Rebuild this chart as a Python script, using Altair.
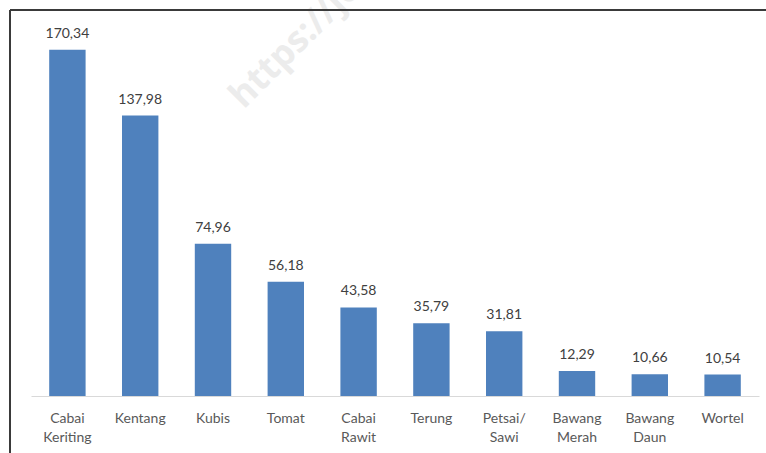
import altair as alt
import pandas as pd

categories = ["Cabai Keriting", "Kentang", "Kubis", "Tomat", "Cabai Rawit",
              "Terung", "Petsai/ Sawi", "Bawang Merah", "Bawang Daun", "Wortel"]
values = [170.34, 137.98, 74.96, 56.18, 43.58, 35.79, 31.81, 12.29, 10.66, 10.54]

df = pd.DataFrame({"kategori": categories, "nilai": values})

FONT = "Lato"

base = alt.Chart(df).transform_calculate(
    lbl="replace(format(datum.nilai, '.2f'), '.', ',')"
)

x_enc = alt.X(
    "kategori:N", sort=categories, title=None,
    scale=alt.Scale(paddingInner=0.5, paddingOuter=0.25),
    axis=alt.Axis(
        labelExpr="split(datum.label, ' ')", labelAngle=0, ticks=False,
        domainColor="#d9d9d9", labelColor="#595959", labelFont=FONT,
        labelFontSize=14, labelPadding=15, labelLineHeight=19,
        labelBaseline="top"
    ),
)
y_enc = alt.Y("nilai:Q", title=None, scale=alt.Scale(domain=[0, 185], nice=False),
              axis=None)

bars = base.mark_bar(color="#4F81BD").encode(x=x_enc, y=y_enc)
texts = base.mark_text(baseline="bottom", dy=-9, font=FONT, fontSize=14,
                       color="#404040").encode(x=x_enc, y=y_enc, text="lbl:N")

frame_left = alt.Chart(df).mark_rule(color="#3a3a3a", strokeWidth=2).encode(
    x=alt.value(-21), y=alt.value(-10), y2=alt.value(460))
frame_top = alt.Chart(df).mark_rule(color="#3a3a3a", strokeWidth=2).encode(
    x=alt.value(-21), x2=alt.value(760), y=alt.value(-10))

watermark = alt.Chart(pd.DataFrame({"t": ["https://je"]})).mark_text(
    angle=315, font="Open Sans", fontSize=36, fontWeight="bold",
    color="#ececec", align="left", baseline="middle"
).encode(text="t:N", x=alt.value(205), y=alt.value(82))

chart = alt.layer(watermark, frame_left, frame_top, bars, texts).properties(
    width=728, height=376,
    background="white",
    autosize=alt.AutoSizeParams(type="none"),
    padding={"left": 31, "top": 20, "right": 7, "bottom": 57},
).configure_view(strokeWidth=0)

chart.save("out.html", embed_options={"renderer": "svg", "actions": False})
